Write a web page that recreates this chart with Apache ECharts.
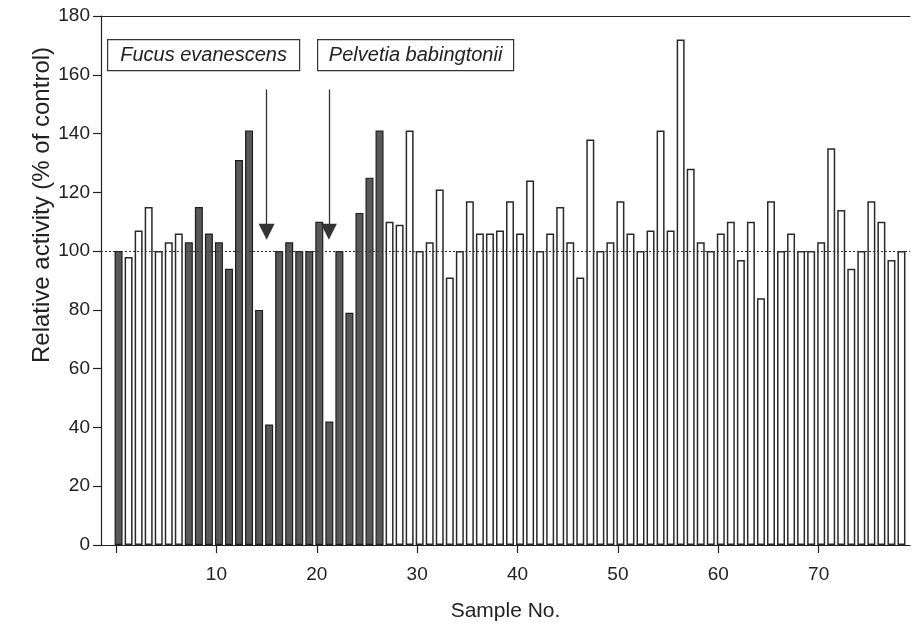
<!DOCTYPE html>
<html><head><meta charset="utf-8">
<script src="https://cdn.jsdelivr.net/npm/echarts@6/dist/echarts.min.js"></script>
<style>html,body{margin:0;padding:0;background:#fff}#c{width:912px;height:632px}</style>
</head><body><div id="c"></div>
<script>
// ---- data ----
const sampleNo = [1,2,3,4,5,6,7,8,9,10,11,12,13,14,15,16,17,18,19,20,21,22,23,24,25,26,27,28,29,30,
  31,32,33,34,35,36,37,38,39,40,41,42,43,44,45,46,47,48,49,50,51,52,53,54,55,56,57,58,59,60,
  61,62,63,64,65,66,67,68,69,70,71,72,73,74,75,76,77,78,79];
const activity = [100,98,107,115,100,103,106,103,115,106,103,94,131,141,80,41,100,103,100,100,
  110,42,100,79,113,125,141,110,109,141,100,103,121,91,100,117,106,106,107,117,
  106,124,100,106,115,103,91,138,100,103,117,106,100,107,141,107,172,128,103,100,
  106,110,97,110,84,117,100,106,100,100,103,135,114,94,100,117,110,97,100];
// 'd' = dark bars, 'w' = white bars
const group = ['d','w','w','w','w','w','w','d','d','d','d','d','d','d','d','d','d','d','d','d',
  'd','d','d','d','d','d','d','w','w','w','w','w','w','w','w','w','w','w','w','w',
  'w','w','w','w','w','w','w','w','w','w','w','w','w','w','w','w','w','w','w','w',
  'w','w','w','w','w','w','w','w','w','w','w','w','w','w','w','w','w','w','w'];
const xTickValues = [0,10,20,30,40,50,60,70];
const xLabelValues = [10,20,30,40,50,60,70];
const controlLevel = 100;
const annotations = [
  {text:'Fucus evanescens', arrowX:15.0},
  {text:'Pelvetia babingtonii', arrowX:21.2}
];
const arrowFrom = 155, arrowTo = 106.6;

// ---- chart ----
const FONT = 'Liberation Sans';
const posOffset = -0.75;
const chart = echarts.init(document.getElementById('c'), null, {renderer:'canvas'});
const barData = sampleNo.map((s,i)=>({
  value:[s+posOffset, activity[i]],
  itemStyle: group[i]==='d'
    ? {color:'#585858', borderColor:'#1e1e1e', borderWidth:1.2}
    : {color:'#ffffff', borderColor:'#2a2a2a', borderWidth:1.5}
}));
chart.setOption({
  animation:false,
  backgroundColor:'#fff',
  grid:{left:101, right:2, top:16, bottom:87},
  xAxis:[{
    type:'value', min:-1.5, max:79.1,
    name:'Sample No.', nameLocation:'middle', nameGap:56,
    nameTextStyle:{fontFamily:FONT, fontSize:21, color:'#222'},
    axisLine:{show:true, onZero:false, lineStyle:{color:'#222', width:1.2}},
    axisTick:{show:true, customValues:xTickValues, length:8, inside:false, lineStyle:{color:'#222', width:1.2}},
    axisLabel:{customValues:xLabelValues, fontFamily:FONT, fontSize:19, color:'#222', margin:20},
    splitLine:{show:false}
  },{
    type:'value', position:'top', min:-1.5, max:79.1,
    axisLine:{show:true, onZero:false, lineStyle:{color:'#222', width:1.2}},
    axisTick:{show:false}, axisLabel:{show:false}, splitLine:{show:false}
  }],
  yAxis:{
    type:'value', min:0, max:180, interval:20,
    axisLine:{show:true, onZero:false, lineStyle:{color:'#222', width:1.2}},
    axisTick:{show:true, length:8, lineStyle:{color:'#222', width:1.2}},
    axisLabel:{fontFamily:FONT, fontSize:19, color:'#222', margin:11},
    splitLine:{show:false}
  },
  series:[{
    type:'line', data:[], z:1, silent:true,
    markLine:{
      silent:true, symbol:'none', label:{show:false},
      lineStyle:{color:'#333', type:[2,2], width:1.2},
      data:[{yAxis:controlLevel}]
    }
  },{
    type:'line', data:[], z:5, silent:true,
    markLine:{
      silent:true, symbol:['none','triangle'], symbolSize:[16,16], label:{show:false},
      lineStyle:{color:'#333', type:'solid', width:1.3},
      itemStyle:{color:'#555'},
      data: annotations.map(a=>[{coord:[a.arrowX, arrowFrom]},{coord:[a.arrowX, arrowTo]}])
    }
  },{
    type:'bar', z:3, barWidth:8, data:barData, silent:true
  }],
  graphic:[
    {type:'text', x:42, y:205, rotation:Math.PI/2,
      style:{text:'Relative activity (% of control)', font:'24px "Liberation Sans"', fill:'#222', align:'center', verticalAlign:'middle'}},
    {type:'group', left:107, top:39, children:[
      {type:'rect', shape:{x:0,y:0,width:192,height:31}, style:{fill:'#fff', stroke:'#333', lineWidth:1.2}},
      {type:'text', x:96, y:16, style:{text:annotations[0].text, font:'italic 20px "Liberation Sans"', fill:'#222', align:'center', verticalAlign:'middle'}}
    ]},
    {type:'group', left:317, top:39, children:[
      {type:'rect', shape:{x:0,y:0,width:196,height:31}, style:{fill:'#fff', stroke:'#333', lineWidth:1.2}},
      {type:'text', x:98, y:16, style:{text:annotations[1].text, font:'italic 20px "Liberation Sans"', fill:'#222', align:'center', verticalAlign:'middle'}}
    ]}
  ]
});
</script></body></html>
